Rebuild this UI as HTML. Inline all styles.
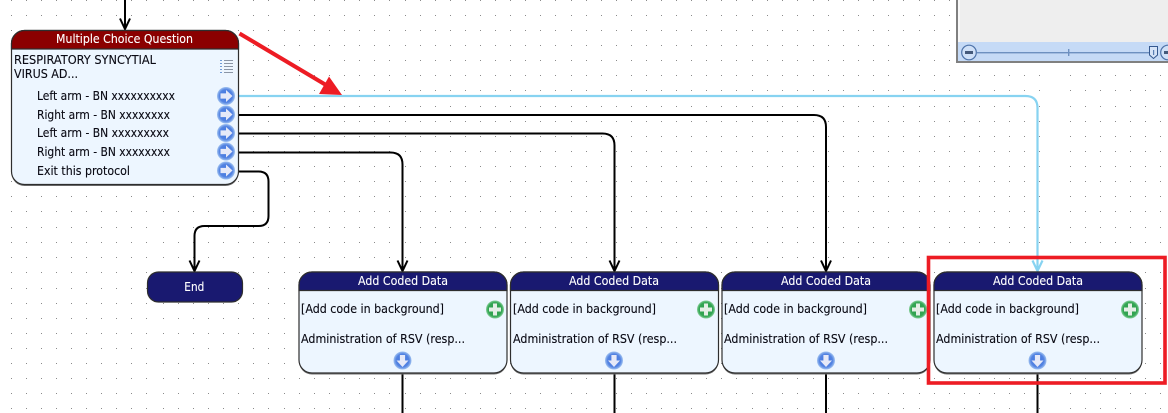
<!DOCTYPE html>
<html>
<head>
<meta charset="utf-8">
<style>
html,body{margin:0;padding:0;background:#fff;width:1168px;height:413px;overflow:hidden}
svg{display:block}
text{font-family:"DejaVu Sans","Liberation Sans",sans-serif;font-size:12.3px;fill:#0a0a14;stroke:#0a0a14;stroke-width:.12px}
.w{fill:#fff;stroke:#fff}
.c{fill:none;stroke:#000;stroke-width:2}
.b{fill:none;stroke:#87d3f1;stroke-width:2.2}
</style>
</head>
<body>
<svg xmlns="http://www.w3.org/2000/svg" width="1168" height="413" viewBox="0 0 1168 413">
<defs>
<pattern id="d" width="15" height="15" patternUnits="userSpaceOnUse"><rect width="1" height="1" fill="#8a8a8a"/></pattern>
<radialGradient id="bl" cx="50%" cy="50%" r="50%"><stop offset="0" stop-color="#3f74de"/><stop offset=".72" stop-color="#5383e2"/><stop offset="1" stop-color="#a0c2f0"/></radialGradient>
<radialGradient id="gr" cx="50%" cy="50%" r="50%"><stop offset="0" stop-color="#2a9a48"/><stop offset=".78" stop-color="#34a654"/><stop offset="1" stop-color="#86cf99"/></radialGradient>
<g id="ar"><circle r="9" fill="url(#bl)"/><path d="M-5.500,-2.600H0V-6L6.500,0L0,6V2.600H-5.500Z" fill="#e6e9f8"/></g>
<g id="dn"><circle r="9" fill="url(#bl)"/><path d="M-2.600,-5.500V0H-6L0,6.500L6,0H2.600V-5.500Z" fill="#e6e9f8"/></g>
<g id="pl"><circle r="9" fill="url(#gr)"/><path d="M-2,-6H2V-2H6V2H2V6H-2V2H-6V-2H-2Z" fill="#e4eee6"/></g>
<g id="nd">
<rect x=".5" y=".8" width="208" height="102.200" rx="13" fill="#6e6e6e"/>
<rect x=".5" y=".5" width="208" height="101" rx="13" fill="#edf6ff" stroke="#2e2e2e" stroke-width="1.2"/>
<path d="M.5,19V13.500A13,13 0 0 1 13.500,.5H195.500A13,13 0 0 1 208.500,13.500V19Z" fill="#191970" stroke="#2e2e2e" stroke-width="1.2"/>
</g>
</defs>

<rect width="1168" height="413" fill="#fff"/>
<g shape-rendering="crispEdges">
<rect transform="translate(11,0)" width="137" height="91" fill="url(#d)"/><rect transform="translate(11,106)" width="137" height="106" fill="url(#d)"/><rect transform="translate(11,227)" width="137" height="46" fill="url(#d)"/><rect transform="translate(11,288)" width="137" height="121" fill="url(#d)"/>
<rect transform="translate(163,0)" width="106" height="91" fill="url(#d)"/><rect transform="translate(163,106)" width="106" height="106" fill="url(#d)"/><rect transform="translate(163,227)" width="106" height="46" fill="url(#d)"/><rect transform="translate(163,288)" width="106" height="121" fill="url(#d)"/>
<rect transform="translate(284,0)" width="106" height="91" fill="url(#d)"/><rect transform="translate(284,106)" width="106" height="106" fill="url(#d)"/><rect transform="translate(284,227)" width="106" height="46" fill="url(#d)"/><rect transform="translate(284,288)" width="106" height="121" fill="url(#d)"/>
<rect transform="translate(405,0)" width="151" height="91" fill="url(#d)"/><rect transform="translate(405,106)" width="151" height="106" fill="url(#d)"/><rect transform="translate(405,227)" width="151" height="46" fill="url(#d)"/><rect transform="translate(405,288)" width="151" height="121" fill="url(#d)"/>
<rect transform="translate(571,0)" width="166" height="91" fill="url(#d)"/><rect transform="translate(571,106)" width="166" height="106" fill="url(#d)"/><rect transform="translate(571,227)" width="166" height="46" fill="url(#d)"/><rect transform="translate(571,288)" width="166" height="121" fill="url(#d)"/>
<rect transform="translate(752,0)" width="46" height="91" fill="url(#d)"/><rect transform="translate(752,106)" width="46" height="106" fill="url(#d)"/><rect transform="translate(752,227)" width="46" height="46" fill="url(#d)"/><rect transform="translate(752,288)" width="46" height="121" fill="url(#d)"/>
<rect transform="translate(813,0)" width="91" height="91" fill="url(#d)"/><rect transform="translate(813,106)" width="91" height="106" fill="url(#d)"/><rect transform="translate(813,227)" width="91" height="46" fill="url(#d)"/><rect transform="translate(813,288)" width="91" height="121" fill="url(#d)"/>
<rect transform="translate(919,0)" width="121" height="91" fill="url(#d)"/><rect transform="translate(919,106)" width="121" height="106" fill="url(#d)"/><rect transform="translate(919,227)" width="121" height="46" fill="url(#d)"/><rect transform="translate(919,288)" width="121" height="121" fill="url(#d)"/>
<rect transform="translate(1070,0)" width="91" height="91" fill="url(#d)"/><rect transform="translate(1070,106)" width="91" height="106" fill="url(#d)"/><rect transform="translate(1070,227)" width="91" height="46" fill="url(#d)"/><rect transform="translate(1070,288)" width="91" height="121" fill="url(#d)"/>
</g>

<!-- overview panel -->
<rect x="956" y="0" width="212" height="63" fill="#808080"/>
<rect x="958" y="0" width="210" height="42" fill="#eeeeee"/>
<rect x="958" y="0" width="2" height="44" fill="#f8f8f8"/>
<rect x="958" y="42" width="210" height="19" fill="#c5daf6"/>
<circle cx="969" cy="52.500" r="7.300" fill="#cfe0f7" stroke="#4d72a8" stroke-width="1.2"/>
<rect x="965" y="51" width="8" height="3" fill="#44597a"/>
<rect x="977" y="52" width="173" height="1.400" fill="#6d90c0"/>
<rect x="1068" y="49" width="1.400" height="7" fill="#6d90c0"/>
<path d="M1149.500,46.500H1157.500V55L1153.500,58.500L1149.500,55Z" fill="#d5e3f7" stroke="#34588f" stroke-width="1"/>
<rect x="1153" y="50" width="1.200" height="5" fill="#5a7fb3"/>
<circle cx="1168" cy="52.500" r="7.300" fill="#cfe0f7" stroke="#4d72a8" stroke-width="1.2"/>
<rect x="1164" y="51" width="4" height="3" fill="#44597a"/>

<!-- connectors -->
<path class="c" d="M125,0V29M120,18.500L125,29L130,18.500"/>
<path class="b" d="M235,96H1025.500Q1037.500,96 1037.500,108V271M1032.500,260.500L1037.500,271L1042.500,260.500"/>
<path class="c" d="M235,115H814Q826,115 826,127V271M821,260.500L826,271L831,260.500"/>
<path class="c" d="M235,133.500H602.500Q614.500,133.500 614.500,145.500V271M609.500,260.500L614.500,271L619.500,260.500"/>
<path class="c" d="M235,152.500H390.500Q402.500,152.500 402.500,164.500V271M397.500,260.500L402.500,271L407.500,260.500"/>
<path class="c" d="M235,171.500H258.500Q268.500,171.500 268.500,181.500V216Q268.500,226 258.500,226H204.500Q194.500,226 194.500,236V271M189.500,260.500L194.500,271L199.500,260.500"/>
<path class="c" d="M402.500,369V413M614.500,369V413M826,369V413M1037.500,369V413"/>

<!-- question node -->
<rect x="11.500" y="30.800" width="227" height="155.200" rx="13" fill="#6e6e6e"/>
<rect x="11.500" y="30.500" width="227" height="154" rx="13" fill="#edf6ff" stroke="#2e2e2e" stroke-width="1.2"/>
<path d="M11.500,49V43.500A13,13 0 0 1 24.500,30.500H225.500A13,13 0 0 1 238.500,43.500V49Z" fill="#8b0000" stroke="#2e2e2e" stroke-width="1.2"/>
<text class="w" x="56" y="43" textLength="137" lengthAdjust="spacingAndGlyphs">Multiple Choice Question</text>
<text x="14" y="64" textLength="142" lengthAdjust="spacingAndGlyphs">RESPIRATORY SYNCYTIAL</text>
<text x="14" y="78" textLength="64" lengthAdjust="spacingAndGlyphs">VIRUS AD...</text>
<g fill="#8a95a5" shape-rendering="crispEdges">
<rect x="224" y="60" width="9" height="1"/><rect x="224" y="63" width="9" height="1"/><rect x="224" y="66" width="9" height="1"/><rect x="224" y="69" width="9" height="1"/><rect x="224" y="72" width="9" height="1"/>
<rect x="220" y="60" width="2" height="1" fill="#6f9bd6"/><rect x="220" y="63" width="2" height="1" fill="#6f9bd6"/><rect x="220" y="66" width="2" height="1" fill="#6f9bd6"/><rect x="220" y="69" width="2" height="1" fill="#6f9bd6"/><rect x="220" y="72" width="2" height="1" fill="#6f9bd6"/>
</g>
<text x="37" y="100" textLength="138" lengthAdjust="spacingAndGlyphs">Left arm - BN xxxxxxxxxx</text>
<text x="37" y="119" textLength="133" lengthAdjust="spacingAndGlyphs">Right arm - BN xxxxxxxx</text>
<text x="37" y="137" textLength="132" lengthAdjust="spacingAndGlyphs">Left arm - BN xxxxxxxxx</text>
<text x="37" y="156" textLength="133" lengthAdjust="spacingAndGlyphs">Right arm - BN xxxxxxxx</text>
<text x="37" y="175" textLength="93" lengthAdjust="spacingAndGlyphs">Exit this protocol</text>
<use href="#ar" transform="translate(226,96)"/>
<use href="#ar" transform="translate(226,114.500)"/>
<use href="#ar" transform="translate(226,133)"/>
<use href="#ar" transform="translate(226,151.500)"/>
<use href="#ar" transform="translate(226,170.500)"/>

<!-- end node -->
<rect x="147.500" y="272" width="95" height="30" rx="11" fill="#191970" stroke="#2e2e2e" stroke-width="1.2"/>
<text class="w" x="184.300" y="291" textLength="20" lengthAdjust="spacingAndGlyphs">End</text>

<!-- coded data nodes -->
<use href="#nd" transform="translate(298.500,271.500)"/>
<use href="#nd" transform="translate(510,271.500)"/>
<use href="#nd" transform="translate(721.500,271.500)"/>
<use href="#nd" transform="translate(933.500,271.500)"/>

<text class="w" x="358" y="285" textLength="90" lengthAdjust="spacingAndGlyphs">Add Coded Data</text>
<text x="301" y="313" textLength="143" lengthAdjust="spacingAndGlyphs">[Add code in background]</text>
<text x="301" y="343" textLength="164" lengthAdjust="spacingAndGlyphs">Administration of RSV (resp...</text>
<use href="#pl" transform="translate(495,309.500)"/>
<use href="#dn" transform="translate(402.500,360.500)"/>

<text class="w" x="569" y="285" textLength="90" lengthAdjust="spacingAndGlyphs">Add Coded Data</text>
<text x="513" y="313" textLength="143" lengthAdjust="spacingAndGlyphs">[Add code in background]</text>
<text x="513" y="343" textLength="164" lengthAdjust="spacingAndGlyphs">Administration of RSV (resp...</text>
<use href="#pl" transform="translate(706,309.500)"/>
<use href="#dn" transform="translate(614,360.500)"/>

<text class="w" x="781" y="285" textLength="90" lengthAdjust="spacingAndGlyphs">Add Coded Data</text>
<text x="724" y="313" textLength="143" lengthAdjust="spacingAndGlyphs">[Add code in background]</text>
<text x="724" y="343" textLength="164" lengthAdjust="spacingAndGlyphs">Administration of RSV (resp...</text>
<use href="#pl" transform="translate(918,309.500)"/>
<use href="#dn" transform="translate(826,360.500)"/>

<text class="w" x="993" y="285" textLength="90" lengthAdjust="spacingAndGlyphs">Add Coded Data</text>
<text x="936" y="313" textLength="143" lengthAdjust="spacingAndGlyphs">[Add code in background]</text>
<text x="936" y="343" textLength="164" lengthAdjust="spacingAndGlyphs">Administration of RSV (resp...</text>
<use href="#pl" transform="translate(1130,309.500)"/>
<use href="#dn" transform="translate(1037.500,360.500)"/>

<!-- red annotations -->
<path d="M239.500,33.500L326,85" fill="none" stroke="#ed1c24" stroke-width="4"/>
<path d="M319,94L342,95L329,76.500Z" fill="#ed1c24"/>
<rect x="928.500" y="257.500" width="236.500" height="125.500" fill="none" stroke="#ed1c24" stroke-width="3.600"/>
</svg>
</body>
</html>
